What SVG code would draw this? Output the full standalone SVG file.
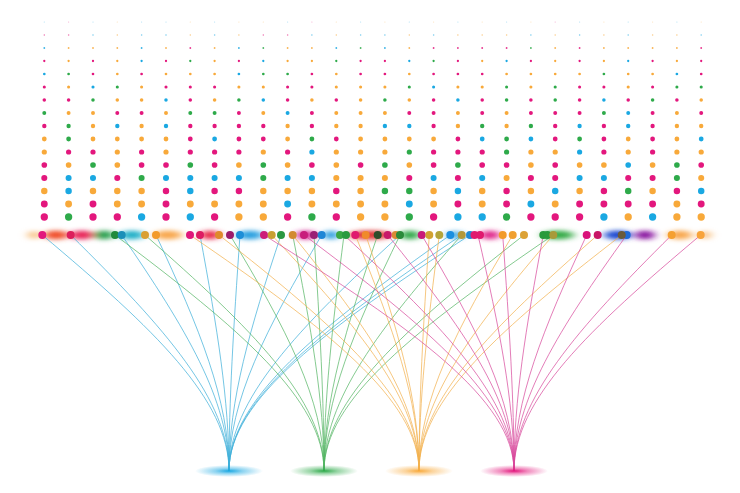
<svg xmlns="http://www.w3.org/2000/svg" width="740" height="493" viewBox="0 0 740 493">
<defs>
<style>
.m{fill:#e3177d}.o{fill:#f8a93a}.b{fill:#1aa8e2}.g{fill:#2eaa4a}
.cb{stroke:#3fb0d9}.cg{stroke:#55b565}.co{stroke:#f2b14e}.cm{stroke:#d84a9c}
#connectors path{fill:none;stroke-width:0.9;opacity:0.8}
.glow{filter:url(#blur)}
</style>
<filter id="blur" x="-50%" y="-200%" width="200%" height="500%"><feGaussianBlur stdDeviation="5 2.2"/></filter>
<radialGradient id="fb"><stop offset="0" stop-color="#1aa8e2"/><stop offset="0.4" stop-color="#1aa8e2" stop-opacity="0.5"/><stop offset="1" stop-color="#1aa8e2" stop-opacity="0"/></radialGradient>
<radialGradient id="fg"><stop offset="0" stop-color="#2eaa4a"/><stop offset="0.4" stop-color="#2eaa4a" stop-opacity="0.5"/><stop offset="1" stop-color="#2eaa4a" stop-opacity="0"/></radialGradient>
<radialGradient id="fo"><stop offset="0" stop-color="#f8a93a"/><stop offset="0.4" stop-color="#f8a93a" stop-opacity="0.5"/><stop offset="1" stop-color="#f8a93a" stop-opacity="0"/></radialGradient>
<radialGradient id="fm"><stop offset="0" stop-color="#e3177d"/><stop offset="0.4" stop-color="#e3177d" stop-opacity="0.5"/><stop offset="1" stop-color="#e3177d" stop-opacity="0"/></radialGradient>
</defs>
<rect width="740" height="493" fill="#ffffff"/>

<g id="dot-grid">
<g transform="translate(0,22)" opacity="0.35">
<circle cx="44.3" r="0.6" class="b"/><circle cx="68.6" r="0.6" class="m"/><circle cx="93" r="0.6" class="b"/><circle cx="117.3" r="0.6" class="o"/><circle cx="141.6" r="0.6" class="b"/><circle cx="166" r="0.6" class="b"/><circle cx="190.3" r="0.6" class="o"/><circle cx="214.6" r="0.6" class="b"/><circle cx="238.9" r="0.6" class="o"/><circle cx="263.3" r="0.6" class="o"/><circle cx="287.6" r="0.6" class="b"/><circle cx="311.9" r="0.6" class="m"/><circle cx="336.3" r="0.6" class="o"/><circle cx="360.6" r="0.6" class="b"/><circle cx="384.9" r="0.6" class="o"/><circle cx="409.3" r="0.6" class="b"/><circle cx="433.6" r="0.6" class="o"/><circle cx="457.9" r="0.6" class="b"/><circle cx="482.2" r="0.6" class="o"/><circle cx="506.6" r="0.6" class="b"/><circle cx="530.9" r="0.6" class="o"/><circle cx="555.2" r="0.6" class="m"/><circle cx="579.6" r="0.6" class="b"/><circle cx="603.9" r="0.6" class="o"/><circle cx="628.2" r="0.6" class="b"/><circle cx="652.6" r="0.6" class="o"/><circle cx="676.9" r="0.6" class="b"/><circle cx="701.2" r="0.6" class="o"/>
</g>
<g transform="translate(0,35)" opacity="0.6">
<circle cx="44.3" r="0.75" class="m"/><circle cx="68.6" r="0.75" class="m"/><circle cx="93" r="0.75" class="b"/><circle cx="117.3" r="0.75" class="o"/><circle cx="141.6" r="0.75" class="b"/><circle cx="166" r="0.75" class="b"/><circle cx="190.3" r="0.75" class="o"/><circle cx="214.6" r="0.75" class="b"/><circle cx="238.9" r="0.75" class="o"/><circle cx="263.3" r="0.75" class="m"/><circle cx="287.6" r="0.75" class="m"/><circle cx="311.9" r="0.75" class="b"/><circle cx="336.3" r="0.75" class="o"/><circle cx="360.6" r="0.75" class="b"/><circle cx="384.9" r="0.75" class="b"/><circle cx="409.3" r="0.75" class="o"/><circle cx="433.6" r="0.75" class="b"/><circle cx="457.9" r="0.75" class="o"/><circle cx="482.2" r="0.75" class="o"/><circle cx="506.6" r="0.75" class="o"/><circle cx="530.9" r="0.75" class="b"/><circle cx="555.2" r="0.75" class="o"/><circle cx="579.6" r="0.75" class="b"/><circle cx="603.9" r="0.75" class="o"/><circle cx="628.2" r="0.75" class="b"/><circle cx="652.6" r="0.75" class="o"/><circle cx="676.9" r="0.75" class="o"/><circle cx="701.2" r="0.75" class="b"/>
</g>
<g transform="translate(0,48)" opacity="0.85">
<circle cx="44.3" r="0.92" class="b"/><circle cx="68.6" r="0.92" class="o"/><circle cx="93" r="0.92" class="o"/><circle cx="117.3" r="0.92" class="o"/><circle cx="141.6" r="0.92" class="b"/><circle cx="166" r="0.92" class="o"/><circle cx="190.3" r="0.92" class="m"/><circle cx="214.6" r="0.92" class="o"/><circle cx="238.9" r="0.92" class="b"/><circle cx="263.3" r="0.92" class="g"/><circle cx="287.6" r="0.92" class="o"/><circle cx="311.9" r="0.92" class="o"/><circle cx="336.3" r="0.92" class="b"/><circle cx="360.6" r="0.92" class="g"/><circle cx="384.9" r="0.92" class="b"/><circle cx="409.3" r="0.92" class="o"/><circle cx="433.6" r="0.92" class="m"/><circle cx="457.9" r="0.92" class="m"/><circle cx="482.2" r="0.92" class="m"/><circle cx="506.6" r="0.92" class="m"/><circle cx="530.9" r="0.92" class="g"/><circle cx="555.2" r="0.92" class="o"/><circle cx="579.6" r="0.92" class="m"/><circle cx="603.9" r="0.92" class="o"/><circle cx="628.2" r="0.92" class="o"/><circle cx="652.6" r="0.92" class="o"/><circle cx="676.9" r="0.92" class="o"/><circle cx="701.2" r="0.92" class="m"/>
</g>
<g transform="translate(0,61)">
<circle cx="44.3" r="1.13" class="m"/><circle cx="68.6" r="1.13" class="o"/><circle cx="93" r="1.13" class="m"/><circle cx="117.3" r="1.13" class="o"/><circle cx="141.6" r="1.13" class="b"/><circle cx="166" r="1.13" class="m"/><circle cx="190.3" r="1.13" class="g"/><circle cx="214.6" r="1.13" class="o"/><circle cx="238.9" r="1.13" class="m"/><circle cx="263.3" r="1.13" class="b"/><circle cx="287.6" r="1.13" class="o"/><circle cx="311.9" r="1.13" class="o"/><circle cx="336.3" r="1.13" class="g"/><circle cx="360.6" r="1.13" class="m"/><circle cx="384.9" r="1.13" class="m"/><circle cx="409.3" r="1.13" class="b"/><circle cx="433.6" r="1.13" class="g"/><circle cx="457.9" r="1.13" class="m"/><circle cx="482.2" r="1.13" class="o"/><circle cx="506.6" r="1.13" class="b"/><circle cx="530.9" r="1.13" class="m"/><circle cx="555.2" r="1.13" class="o"/><circle cx="579.6" r="1.13" class="m"/><circle cx="603.9" r="1.13" class="o"/><circle cx="628.2" r="1.13" class="b"/><circle cx="652.6" r="1.13" class="m"/><circle cx="676.9" r="1.13" class="o"/><circle cx="701.2" r="1.13" class="m"/>
</g>
<g transform="translate(0,74)">
<circle cx="44.3" r="1.34" class="b"/><circle cx="68.6" r="1.34" class="g"/><circle cx="93" r="1.34" class="m"/><circle cx="117.3" r="1.34" class="o"/><circle cx="141.6" r="1.34" class="m"/><circle cx="166" r="1.34" class="o"/><circle cx="190.3" r="1.34" class="o"/><circle cx="214.6" r="1.34" class="o"/><circle cx="238.9" r="1.34" class="b"/><circle cx="263.3" r="1.34" class="g"/><circle cx="287.6" r="1.34" class="g"/><circle cx="311.9" r="1.34" class="m"/><circle cx="336.3" r="1.34" class="o"/><circle cx="360.6" r="1.34" class="m"/><circle cx="384.9" r="1.34" class="m"/><circle cx="409.3" r="1.34" class="o"/><circle cx="433.6" r="1.34" class="m"/><circle cx="457.9" r="1.34" class="m"/><circle cx="482.2" r="1.34" class="m"/><circle cx="506.6" r="1.34" class="o"/><circle cx="530.9" r="1.34" class="o"/><circle cx="555.2" r="1.34" class="o"/><circle cx="579.6" r="1.34" class="o"/><circle cx="603.9" r="1.34" class="g"/><circle cx="628.2" r="1.34" class="o"/><circle cx="652.6" r="1.34" class="o"/><circle cx="676.9" r="1.34" class="b"/><circle cx="701.2" r="1.34" class="m"/>
</g>
<g transform="translate(0,87)">
<circle cx="44.3" r="1.55" class="m"/><circle cx="68.6" r="1.55" class="o"/><circle cx="93" r="1.55" class="b"/><circle cx="117.3" r="1.55" class="g"/><circle cx="141.6" r="1.55" class="o"/><circle cx="166" r="1.55" class="m"/><circle cx="190.3" r="1.55" class="m"/><circle cx="214.6" r="1.55" class="m"/><circle cx="238.9" r="1.55" class="o"/><circle cx="263.3" r="1.55" class="o"/><circle cx="287.6" r="1.55" class="m"/><circle cx="311.9" r="1.55" class="m"/><circle cx="336.3" r="1.55" class="o"/><circle cx="360.6" r="1.55" class="o"/><circle cx="384.9" r="1.55" class="o"/><circle cx="409.3" r="1.55" class="g"/><circle cx="433.6" r="1.55" class="b"/><circle cx="457.9" r="1.55" class="o"/><circle cx="482.2" r="1.55" class="o"/><circle cx="506.6" r="1.55" class="g"/><circle cx="530.9" r="1.55" class="o"/><circle cx="555.2" r="1.55" class="g"/><circle cx="579.6" r="1.55" class="m"/><circle cx="603.9" r="1.55" class="m"/><circle cx="628.2" r="1.55" class="o"/><circle cx="652.6" r="1.55" class="m"/><circle cx="676.9" r="1.55" class="g"/><circle cx="701.2" r="1.55" class="g"/>
</g>
<g transform="translate(0,100)">
<circle cx="44.3" r="1.76" class="m"/><circle cx="68.6" r="1.76" class="m"/><circle cx="93" r="1.76" class="g"/><circle cx="117.3" r="1.76" class="o"/><circle cx="141.6" r="1.76" class="o"/><circle cx="166" r="1.76" class="b"/><circle cx="190.3" r="1.76" class="m"/><circle cx="214.6" r="1.76" class="o"/><circle cx="238.9" r="1.76" class="g"/><circle cx="263.3" r="1.76" class="b"/><circle cx="287.6" r="1.76" class="m"/><circle cx="311.9" r="1.76" class="o"/><circle cx="336.3" r="1.76" class="m"/><circle cx="360.6" r="1.76" class="o"/><circle cx="384.9" r="1.76" class="g"/><circle cx="409.3" r="1.76" class="o"/><circle cx="433.6" r="1.76" class="m"/><circle cx="457.9" r="1.76" class="b"/><circle cx="482.2" r="1.76" class="m"/><circle cx="506.6" r="1.76" class="g"/><circle cx="530.9" r="1.76" class="m"/><circle cx="555.2" r="1.76" class="g"/><circle cx="579.6" r="1.76" class="m"/><circle cx="603.9" r="1.76" class="b"/><circle cx="628.2" r="1.76" class="m"/><circle cx="652.6" r="1.76" class="g"/><circle cx="676.9" r="1.76" class="m"/><circle cx="701.2" r="1.76" class="o"/>
</g>
<g transform="translate(0,113)">
<circle cx="44.3" r="1.97" class="g"/><circle cx="68.6" r="1.97" class="o"/><circle cx="93" r="1.97" class="o"/><circle cx="117.3" r="1.97" class="m"/><circle cx="141.6" r="1.97" class="m"/><circle cx="166" r="1.97" class="o"/><circle cx="190.3" r="1.97" class="g"/><circle cx="214.6" r="1.97" class="g"/><circle cx="238.9" r="1.97" class="m"/><circle cx="263.3" r="1.97" class="o"/><circle cx="287.6" r="1.97" class="b"/><circle cx="311.9" r="1.97" class="m"/><circle cx="336.3" r="1.97" class="o"/><circle cx="360.6" r="1.97" class="o"/><circle cx="384.9" r="1.97" class="o"/><circle cx="409.3" r="1.97" class="m"/><circle cx="433.6" r="1.97" class="m"/><circle cx="457.9" r="1.97" class="o"/><circle cx="482.2" r="1.97" class="m"/><circle cx="506.6" r="1.97" class="o"/><circle cx="530.9" r="1.97" class="m"/><circle cx="555.2" r="1.97" class="m"/><circle cx="579.6" r="1.97" class="m"/><circle cx="603.9" r="1.97" class="g"/><circle cx="628.2" r="1.97" class="b"/><circle cx="652.6" r="1.97" class="m"/><circle cx="676.9" r="1.97" class="o"/><circle cx="701.2" r="1.97" class="m"/>
</g>
<g transform="translate(0,126)">
<circle cx="44.3" r="2.18" class="m"/><circle cx="68.6" r="2.18" class="g"/><circle cx="93" r="2.18" class="o"/><circle cx="117.3" r="2.18" class="b"/><circle cx="141.6" r="2.18" class="o"/><circle cx="166" r="2.18" class="b"/><circle cx="190.3" r="2.18" class="m"/><circle cx="214.6" r="2.18" class="m"/><circle cx="238.9" r="2.18" class="m"/><circle cx="263.3" r="2.18" class="m"/><circle cx="287.6" r="2.18" class="o"/><circle cx="311.9" r="2.18" class="m"/><circle cx="336.3" r="2.18" class="o"/><circle cx="360.6" r="2.18" class="o"/><circle cx="384.9" r="2.18" class="b"/><circle cx="409.3" r="2.18" class="b"/><circle cx="433.6" r="2.18" class="m"/><circle cx="457.9" r="2.18" class="o"/><circle cx="482.2" r="2.18" class="g"/><circle cx="506.6" r="2.18" class="o"/><circle cx="530.9" r="2.18" class="g"/><circle cx="555.2" r="2.18" class="m"/><circle cx="579.6" r="2.18" class="b"/><circle cx="603.9" r="2.18" class="m"/><circle cx="628.2" r="2.18" class="b"/><circle cx="652.6" r="2.18" class="m"/><circle cx="676.9" r="2.18" class="o"/><circle cx="701.2" r="2.18" class="o"/>
</g>
<g transform="translate(0,139)">
<circle cx="44.3" r="2.39" class="o"/><circle cx="68.6" r="2.39" class="g"/><circle cx="93" r="2.39" class="o"/><circle cx="117.3" r="2.39" class="o"/><circle cx="141.6" r="2.39" class="o"/><circle cx="166" r="2.39" class="o"/><circle cx="190.3" r="2.39" class="m"/><circle cx="214.6" r="2.39" class="b"/><circle cx="238.9" r="2.39" class="m"/><circle cx="263.3" r="2.39" class="m"/><circle cx="287.6" r="2.39" class="o"/><circle cx="311.9" r="2.39" class="g"/><circle cx="336.3" r="2.39" class="m"/><circle cx="360.6" r="2.39" class="o"/><circle cx="384.9" r="2.39" class="o"/><circle cx="409.3" r="2.39" class="o"/><circle cx="433.6" r="2.39" class="o"/><circle cx="457.9" r="2.39" class="m"/><circle cx="482.2" r="2.39" class="b"/><circle cx="506.6" r="2.39" class="g"/><circle cx="530.9" r="2.39" class="b"/><circle cx="555.2" r="2.39" class="m"/><circle cx="579.6" r="2.39" class="g"/><circle cx="603.9" r="2.39" class="m"/><circle cx="628.2" r="2.39" class="o"/><circle cx="652.6" r="2.39" class="m"/><circle cx="676.9" r="2.39" class="o"/><circle cx="701.2" r="2.39" class="b"/>
</g>
<g transform="translate(0,152)">
<circle cx="44.3" r="2.6" class="o"/><circle cx="68.6" r="2.6" class="m"/><circle cx="93" r="2.6" class="m"/><circle cx="117.3" r="2.6" class="o"/><circle cx="141.6" r="2.6" class="m"/><circle cx="166" r="2.6" class="o"/><circle cx="190.3" r="2.6" class="m"/><circle cx="214.6" r="2.6" class="m"/><circle cx="238.9" r="2.6" class="m"/><circle cx="263.3" r="2.6" class="o"/><circle cx="287.6" r="2.6" class="m"/><circle cx="311.9" r="2.6" class="b"/><circle cx="336.3" r="2.6" class="o"/><circle cx="360.6" r="2.6" class="o"/><circle cx="384.9" r="2.6" class="o"/><circle cx="409.3" r="2.6" class="g"/><circle cx="433.6" r="2.6" class="m"/><circle cx="457.9" r="2.6" class="m"/><circle cx="482.2" r="2.6" class="m"/><circle cx="506.6" r="2.6" class="g"/><circle cx="530.9" r="2.6" class="o"/><circle cx="555.2" r="2.6" class="o"/><circle cx="579.6" r="2.6" class="b"/><circle cx="603.9" r="2.6" class="m"/><circle cx="628.2" r="2.6" class="o"/><circle cx="652.6" r="2.6" class="m"/><circle cx="676.9" r="2.6" class="o"/><circle cx="701.2" r="2.6" class="o"/>
</g>
<g transform="translate(0,165)">
<circle cx="44.3" r="2.81" class="m"/><circle cx="68.6" r="2.81" class="o"/><circle cx="93" r="2.81" class="g"/><circle cx="117.3" r="2.81" class="o"/><circle cx="141.6" r="2.81" class="m"/><circle cx="166" r="2.81" class="m"/><circle cx="190.3" r="2.81" class="g"/><circle cx="214.6" r="2.81" class="m"/><circle cx="238.9" r="2.81" class="o"/><circle cx="263.3" r="2.81" class="g"/><circle cx="287.6" r="2.81" class="o"/><circle cx="311.9" r="2.81" class="m"/><circle cx="336.3" r="2.81" class="o"/><circle cx="360.6" r="2.81" class="m"/><circle cx="384.9" r="2.81" class="g"/><circle cx="409.3" r="2.81" class="o"/><circle cx="433.6" r="2.81" class="m"/><circle cx="457.9" r="2.81" class="g"/><circle cx="482.2" r="2.81" class="m"/><circle cx="506.6" r="2.81" class="m"/><circle cx="530.9" r="2.81" class="o"/><circle cx="555.2" r="2.81" class="m"/><circle cx="579.6" r="2.81" class="o"/><circle cx="603.9" r="2.81" class="o"/><circle cx="628.2" r="2.81" class="b"/><circle cx="652.6" r="2.81" class="o"/><circle cx="676.9" r="2.81" class="g"/><circle cx="701.2" r="2.81" class="m"/>
</g>
<g transform="translate(0,178)">
<circle cx="44.3" r="3.02" class="m"/><circle cx="68.6" r="3.02" class="b"/><circle cx="93" r="3.02" class="b"/><circle cx="117.3" r="3.02" class="m"/><circle cx="141.6" r="3.02" class="g"/><circle cx="166" r="3.02" class="b"/><circle cx="190.3" r="3.02" class="b"/><circle cx="214.6" r="3.02" class="b"/><circle cx="238.9" r="3.02" class="b"/><circle cx="263.3" r="3.02" class="g"/><circle cx="287.6" r="3.02" class="b"/><circle cx="311.9" r="3.02" class="b"/><circle cx="336.3" r="3.02" class="o"/><circle cx="360.6" r="3.02" class="o"/><circle cx="384.9" r="3.02" class="o"/><circle cx="409.3" r="3.02" class="m"/><circle cx="433.6" r="3.02" class="b"/><circle cx="457.9" r="3.02" class="m"/><circle cx="482.2" r="3.02" class="b"/><circle cx="506.6" r="3.02" class="o"/><circle cx="530.9" r="3.02" class="m"/><circle cx="555.2" r="3.02" class="m"/><circle cx="579.6" r="3.02" class="b"/><circle cx="603.9" r="3.02" class="b"/><circle cx="628.2" r="3.02" class="m"/><circle cx="652.6" r="3.02" class="m"/><circle cx="676.9" r="3.02" class="g"/><circle cx="701.2" r="3.02" class="o"/>
</g>
<g transform="translate(0,191)">
<circle cx="44.3" r="3.23" class="o"/><circle cx="68.6" r="3.23" class="b"/><circle cx="93" r="3.23" class="o"/><circle cx="117.3" r="3.23" class="o"/><circle cx="141.6" r="3.23" class="o"/><circle cx="166" r="3.23" class="m"/><circle cx="190.3" r="3.23" class="b"/><circle cx="214.6" r="3.23" class="m"/><circle cx="238.9" r="3.23" class="m"/><circle cx="263.3" r="3.23" class="o"/><circle cx="287.6" r="3.23" class="o"/><circle cx="311.9" r="3.23" class="o"/><circle cx="336.3" r="3.23" class="m"/><circle cx="360.6" r="3.23" class="o"/><circle cx="384.9" r="3.23" class="g"/><circle cx="409.3" r="3.23" class="g"/><circle cx="433.6" r="3.23" class="o"/><circle cx="457.9" r="3.23" class="b"/><circle cx="482.2" r="3.23" class="o"/><circle cx="506.6" r="3.23" class="m"/><circle cx="530.9" r="3.23" class="o"/><circle cx="555.2" r="3.23" class="b"/><circle cx="579.6" r="3.23" class="o"/><circle cx="603.9" r="3.23" class="m"/><circle cx="628.2" r="3.23" class="g"/><circle cx="652.6" r="3.23" class="o"/><circle cx="676.9" r="3.23" class="m"/><circle cx="701.2" r="3.23" class="b"/>
</g>
<g transform="translate(0,204)">
<circle cx="44.3" r="3.44" class="m"/><circle cx="68.6" r="3.44" class="o"/><circle cx="93" r="3.44" class="m"/><circle cx="117.3" r="3.44" class="o"/><circle cx="141.6" r="3.44" class="o"/><circle cx="166" r="3.44" class="m"/><circle cx="190.3" r="3.44" class="o"/><circle cx="214.6" r="3.44" class="o"/><circle cx="238.9" r="3.44" class="o"/><circle cx="263.3" r="3.44" class="o"/><circle cx="287.6" r="3.44" class="b"/><circle cx="311.9" r="3.44" class="o"/><circle cx="336.3" r="3.44" class="o"/><circle cx="360.6" r="3.44" class="o"/><circle cx="384.9" r="3.44" class="o"/><circle cx="409.3" r="3.44" class="b"/><circle cx="433.6" r="3.44" class="o"/><circle cx="457.9" r="3.44" class="m"/><circle cx="482.2" r="3.44" class="o"/><circle cx="506.6" r="3.44" class="m"/><circle cx="530.9" r="3.44" class="b"/><circle cx="555.2" r="3.44" class="o"/><circle cx="579.6" r="3.44" class="m"/><circle cx="603.9" r="3.44" class="m"/><circle cx="628.2" r="3.44" class="m"/><circle cx="652.6" r="3.44" class="m"/><circle cx="676.9" r="3.44" class="o"/><circle cx="701.2" r="3.44" class="m"/>
</g>
<g transform="translate(0,217)">
<circle cx="44.3" r="3.65" class="m"/><circle cx="68.6" r="3.65" class="g"/><circle cx="93" r="3.65" class="m"/><circle cx="117.3" r="3.65" class="m"/><circle cx="141.6" r="3.65" class="b"/><circle cx="166" r="3.65" class="m"/><circle cx="190.3" r="3.65" class="b"/><circle cx="214.6" r="3.65" class="m"/><circle cx="238.9" r="3.65" class="o"/><circle cx="263.3" r="3.65" class="o"/><circle cx="287.6" r="3.65" class="m"/><circle cx="311.9" r="3.65" class="g"/><circle cx="336.3" r="3.65" class="m"/><circle cx="360.6" r="3.65" class="o"/><circle cx="384.9" r="3.65" class="o"/><circle cx="409.3" r="3.65" class="g"/><circle cx="433.6" r="3.65" class="m"/><circle cx="457.9" r="3.65" class="b"/><circle cx="482.2" r="3.65" class="b"/><circle cx="506.6" r="3.65" class="g"/><circle cx="530.9" r="3.65" class="m"/><circle cx="555.2" r="3.65" class="m"/><circle cx="579.6" r="3.65" class="m"/><circle cx="603.9" r="3.65" class="b"/><circle cx="628.2" r="3.65" class="o"/><circle cx="652.6" r="3.65" class="b"/><circle cx="676.9" r="3.65" class="o"/><circle cx="701.2" r="3.65" class="o"/>
</g>
</g>

<g id="baseline-glow" class="glow">
<ellipse cx="34" cy="235" rx="6" ry="4" fill="#f8c080"/>
<ellipse cx="56" cy="235" rx="12" ry="4.5" fill="#f0502a"/>
<ellipse cx="82" cy="235" rx="12" ry="4.5" fill="#e8285a"/>
<ellipse cx="104" cy="235" rx="10" ry="4.5" fill="#2aa050"/>
<ellipse cx="132" cy="235" rx="12" ry="4.5" fill="#20b0c8"/>
<ellipse cx="168" cy="235" rx="14" ry="4.5" fill="#f8a850"/>
<ellipse cx="210" cy="235" rx="10" ry="4.5" fill="#e82a48"/>
<ellipse cx="250" cy="235" rx="13" ry="4.5" fill="#2aa0e0"/>
<ellipse cx="306" cy="235" rx="10" ry="4.5" fill="#d02890"/>
<ellipse cx="331" cy="235" rx="8" ry="4.5" fill="#30a0e0"/>
<ellipse cx="370" cy="235" rx="22" ry="4.5" fill="#e03838"/>
<ellipse cx="410" cy="235" rx="10" ry="4.5" fill="#30a848"/>
<ellipse cx="455" cy="235" rx="8" ry="4" fill="#40a8e0"/>
<ellipse cx="490" cy="235" rx="10" ry="4.5" fill="#e0288a"/>
<ellipse cx="558" cy="235" rx="16" ry="4.5" fill="#38ac48"/>
<ellipse cx="618" cy="235" rx="14" ry="4.5" fill="#1a48d0"/>
<ellipse cx="645" cy="235" rx="10" ry="4.5" fill="#8a18a0"/>
<ellipse cx="680" cy="235" rx="12" ry="4.5" fill="#f8a850"/>
<ellipse cx="705" cy="235" rx="6" ry="4" fill="#f8c080"/>
</g>

<g id="connectors">
<path class="cb" d="M42.3 235 C154.2 329 229 400 229 471"/>
<path class="cb" d="M70.7 235 C165.8 329 229 400 229 471"/>
<path class="cb" d="M121.7 235 C186.2 329 229 400 229 471"/>
<path class="cb" d="M156 235 C199.8 329 229 400 229 471"/>
<path class="cb" d="M200 235 C217.4 329 229 400 229 471"/>
<path class="cb" d="M240 235 C233.4 329 229 400 229 471"/>
<path class="cb" d="M281 235 C249.8 329 229 400 229 471"/>
<path class="cb" d="M321.7 235 C266.2 329 229 400 229 471"/>
<path class="cb" d="M400 235 C297.4 329 229 400 229 471"/>
<path class="cb" d="M450.3 235 C317.4 329 229 400 229 471"/>
<path class="cb" d="M461.7 235 C322.2 329 229 400 229 471"/>
<path class="cb" d="M470 235 C325.4 329 229 400 229 471"/>
<path class="cg" d="M115 235 C240.4 329 324 400 324 471"/>
<path class="cg" d="M145 235 C252.4 329 324 400 324 471"/>
<path class="cg" d="M230 235 C286.4 329 324 400 324 471"/>
<path class="cg" d="M292.7 235 C311.2 329 324 400 324 471"/>
<path class="cg" d="M314 235 C320 329 324 400 324 471"/>
<path class="cg" d="M344 235 C332 329 324 400 324 471"/>
<path class="cg" d="M377.7 235 C345.6 329 324 400 324 471"/>
<path class="cg" d="M400 235 C354.4 329 324 400 324 471"/>
<path class="cg" d="M461.7 235 C378.8 329 324 400 324 471"/>
<path class="cg" d="M524 235 C404 329 324 400 324 471"/>
<path class="cg" d="M553.3 235 C415.6 329 324 400 324 471"/>
<path class="co" d="M190 235 C327.4 329 419 400 419 471"/>
<path class="co" d="M219 235 C339 329 419 400 419 471"/>
<path class="co" d="M271.7 235 C360.2 329 419 400 419 471"/>
<path class="co" d="M292.7 235 C368.6 329 419 400 419 471"/>
<path class="co" d="M355.3 235 C393.4 329 419 400 419 471"/>
<path class="co" d="M365.7 235 C397.8 329 419 400 419 471"/>
<path class="co" d="M429.3 235 C423 329 419 400 419 471"/>
<path class="co" d="M439.3 235 C427 329 419 400 419 471"/>
<path class="co" d="M512.7 235 C456.6 329 419 400 419 471"/>
<path class="co" d="M553.3 235 C472.6 329 419 400 419 471"/>
<path class="co" d="M597.7 235 C490.6 329 419 400 419 471"/>
<path class="co" d="M621.7 235 C500.2 329 419 400 419 471"/>
<path class="cm" d="M264 235 C414 329 514 400 514 471"/>
<path class="cm" d="M304 235 C430 329 514 400 514 471"/>
<path class="cm" d="M344 235 C446 329 514 400 514 471"/>
<path class="cm" d="M387.7 235 C463.6 329 514 400 514 471"/>
<path class="cm" d="M421.7 235 C477.2 329 514 400 514 471"/>
<path class="cm" d="M478 235 C499.6 329 514 400 514 471"/>
<path class="cm" d="M502.7 235 C509.6 329 514 400 514 471"/>
<path class="cm" d="M543.3 235 C525.6 329 514 400 514 471"/>
<path class="cm" d="M586.7 235 C543.2 329 514 400 514 471"/>
<path class="cm" d="M626.7 235 C559.2 329 514 400 514 471"/>
<path class="cm" d="M671.7 235 C577.2 329 514 400 514 471"/>
<path class="cm" d="M700.7 235 C588.8 329 514 400 514 471"/>
</g>

<g id="baseline-dots">
<circle cx="42.3" cy="235" r="4" fill="#e2197d"/>
<circle cx="70.7" cy="235" r="4" fill="#dc1f5c"/>
<circle cx="115" cy="235" r="4" fill="#1f8a3c"/>
<circle cx="121.7" cy="235" r="4" fill="#1a8fb8"/>
<circle cx="145" cy="235" r="4" fill="#d9a033"/>
<circle cx="156" cy="235" r="4" fill="#f39a2a"/>
<circle cx="190" cy="235" r="4" fill="#e0187a"/>
<circle cx="200" cy="235" r="4" fill="#dd1c62"/>
<circle cx="219" cy="235" r="4" fill="#df8a2b"/>
<circle cx="230" cy="235" r="4" fill="#9c1b6b"/>
<circle cx="240" cy="235" r="4" fill="#1c8ed8"/>
<circle cx="264" cy="235" r="4" fill="#cc1d7a"/>
<circle cx="271.7" cy="235" r="4" fill="#c9a032"/>
<circle cx="281" cy="235" r="4" fill="#2a9842"/>
<circle cx="292.7" cy="235" r="4" fill="#d28a30"/>
<circle cx="304" cy="235" r="4" fill="#c81d7c"/>
<circle cx="314" cy="235" r="4" fill="#9a2075"/>
<circle cx="321.7" cy="235" r="4" fill="#1f86d6"/>
<circle cx="340" cy="235" r="4" fill="#3aa845"/>
<circle cx="346" cy="235" r="4" fill="#2a9a3f"/>
<circle cx="355.3" cy="235" r="4" fill="#e0196e"/>
<circle cx="365.7" cy="235" r="4" fill="#f08a2a"/>
<circle cx="377.7" cy="235" r="4" fill="#2e4d2a"/>
<circle cx="387.7" cy="235" r="4" fill="#c81a6a"/>
<circle cx="395.7" cy="235" r="4" fill="#d98a35"/>
<circle cx="400" cy="235" r="4" fill="#2a8a3a"/>
<circle cx="421.7" cy="235" r="4" fill="#c8197a"/>
<circle cx="429.3" cy="235" r="4" fill="#d1a232"/>
<circle cx="439.3" cy="235" r="4" fill="#b3a43a"/>
<circle cx="450.3" cy="235" r="4" fill="#1a8fe0"/>
<circle cx="461.7" cy="235" r="4" fill="#b3983a"/>
<circle cx="470" cy="235" r="4" fill="#1f8ad6"/>
<circle cx="474.5" cy="235" r="4" fill="#e0196e"/>
<circle cx="480" cy="235" r="4" fill="#e0196e"/>
<circle cx="502.7" cy="235" r="4" fill="#f29a2a"/>
<circle cx="512.7" cy="235" r="4" fill="#f0a030"/>
<circle cx="524" cy="235" r="4" fill="#dca236"/>
<circle cx="543.3" cy="235" r="4" fill="#2a9a3a"/>
<circle cx="547.3" cy="235" r="4" fill="#2a9a3a"/>
<circle cx="553.3" cy="235" r="4" fill="#a89a3a"/>
<circle cx="586.7" cy="235" r="4" fill="#d9137a"/>
<circle cx="597.7" cy="235" r="4" fill="#c81565"/>
<circle cx="626.7" cy="235" r="4" fill="#1f6ad6"/>
<circle cx="621.7" cy="235" r="4" fill="#6a5a3a"/>
<circle cx="671.7" cy="235" r="4" fill="#f5a030"/>
<circle cx="700.7" cy="235" r="4" fill="#f8a33a"/>
</g>

<g id="focus-blue"><ellipse cx="229" cy="471" rx="34" ry="6" fill="url(#fb)"/></g>
<g id="focus-green"><ellipse cx="324" cy="471" rx="34" ry="6" fill="url(#fg)"/></g>
<g id="focus-orange"><ellipse cx="419" cy="471" rx="34" ry="6" fill="url(#fo)"/></g>
<g id="focus-magenta"><ellipse cx="514" cy="471" rx="34" ry="6" fill="url(#fm)"/></g>
</svg>
